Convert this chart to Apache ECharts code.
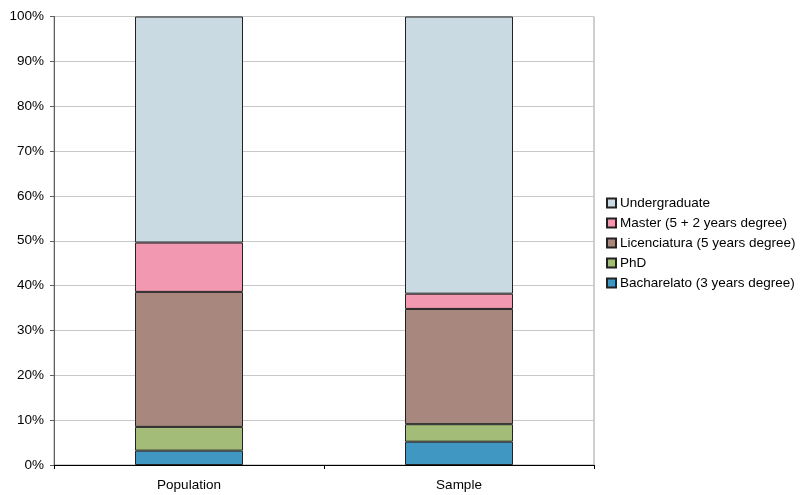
<!DOCTYPE html>
<html>
<head>
<meta charset="utf-8">
<script src="https://cdn.jsdelivr.net/npm/echarts@6/dist/echarts.min.js"></script>
<style>
  html, body { margin: 0; padding: 0; background: #fff; }
  #chart { width: 800px; height: 495px; }
</style>
</head>
<body>
<div id="chart"></div>
<script>
// Education level shares (percent), stacked bottom to top
const categories = ['Population', 'Sample'];
const bacharelato = [3.2, 5.2];
const phd = [5.3, 3.9];
const licenciatura = [30.1, 25.7];
const master = [11.0, 3.4];
const undergraduate = [50.4, 61.8];
const yTicks = [0, 10, 20, 30, 40, 50, 60, 70, 80, 90, 100];

const seriesDefs = [
  { name: 'Bacharelato (3 years degree)', data: bacharelato, color: '#3F97C2' },
  { name: 'PhD', data: phd, color: '#A3BD78' },
  { name: 'Licenciatura (5 years degree)', data: licenciatura, color: '#A8877E' },
  { name: 'Master (5 + 2 years degree)', data: master, color: '#F298B0' },
  { name: 'Undergraduate', data: undergraduate, color: '#C9DAE3' }
];

const chart = echarts.init(document.getElementById('chart'), null, { renderer: 'canvas' });

chart.setOption({
  animation: false,
  textStyle: { fontFamily: 'Liberation Sans, Arial, sans-serif' },
  grid: {
    left: 54, right: 206, top: 16.5, bottom: 30,
    show: true, borderColor: '#A0A0A0', borderWidth: 1, backgroundColor: '#fff'
  },
  legend: {
    orient: 'vertical',
    left: 601,
    top: 191,
    itemWidth: 9,
    itemHeight: 9,
    itemGap: 6,
    icon: 'rect',
    data: seriesDefs.map(s => s.name).reverse(),
    textStyle: { fontSize: 13.5, lineHeight: 14, color: '#000', padding: [0, 0, 0, -1] }
  },
  xAxis: {
    type: 'category',
    data: categories,
    axisLine: { lineStyle: { color: '#000', width: 1 } },
    axisTick: { show: true, alignWithLabel: false, length: 4, lineStyle: { color: '#000' } },
    axisLabel: { fontSize: 13.5, color: '#000', margin: 13 }
  },
  yAxis: {
    type: 'value',
    min: 0, max: 100, interval: 10,
    axisLine: { show: true, lineStyle: { color: '#606060', width: 1 } },
    axisTick: { show: true, length: 4, lineStyle: { color: '#606060' } },
    splitLine: { lineStyle: { color: '#C8C8C8', width: 1 } },
    axisLabel: {
      fontSize: 13.5, color: '#000', margin: 10,
      formatter: v => (yTicks.includes(v) ? v + '%' : '')
    }
  },
  series: seriesDefs.map(s => ({
    name: s.name,
    type: 'bar',
    stack: 'total',
    barWidth: '40%',
    data: s.data,
    itemStyle: { color: s.color, borderColor: '#222', borderWidth: 1 }
  }))
});
</script>
</body>
</html>
